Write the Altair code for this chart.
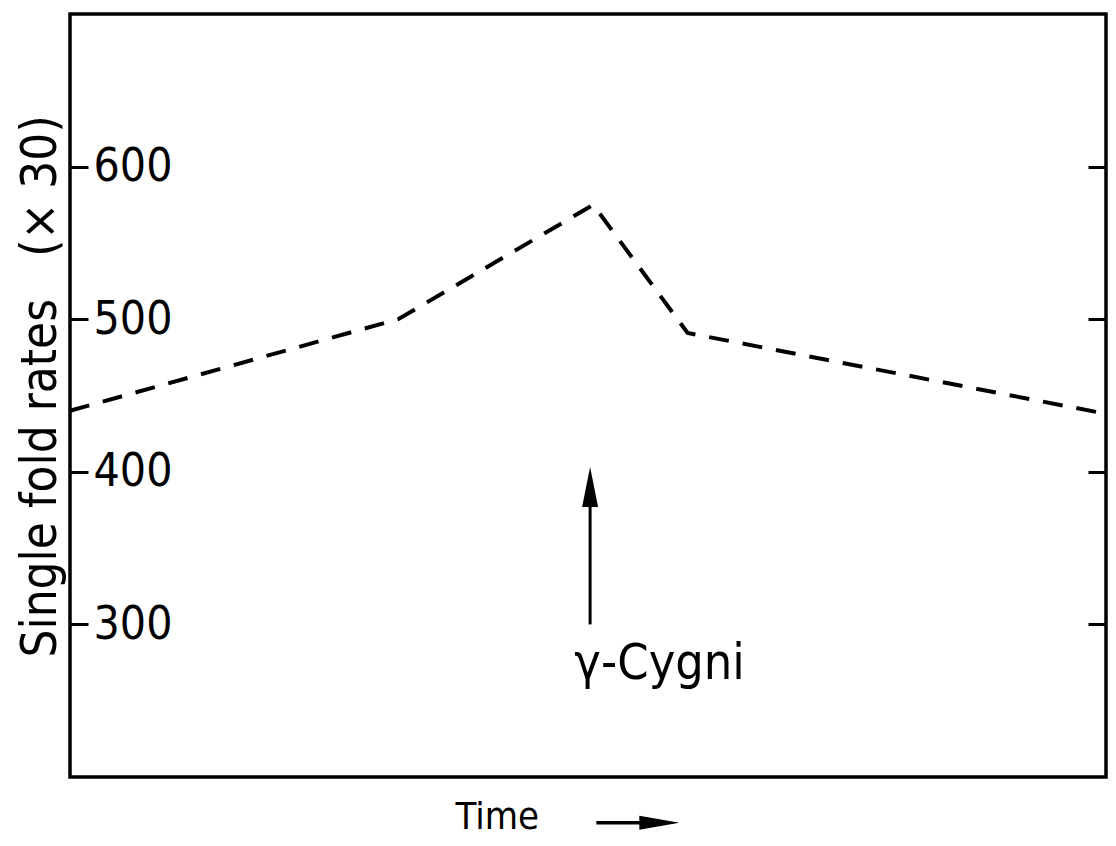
import altair as alt
import pandas as pd

# dashed rate curve (time in arbitrary units)
time = [0, 31.3, 49.9, 58.9, 98.8]
rate = [440, 500, 575, 491, 438]
y_ticks = [300, 400, 500, 600]

# gamma-Cygni marker arrow
event_time = [49.6]
event_base = [300]
event_tip = [385]
event_head = [390]
event_label = ["γ-Cygni"]
label_time = [48.1]
label_rate = [264]

# "Time ->" arrow below the axis
tarrow_start = [50.2]
tarrow_end = [55.5]
tarrow_head = [56.2]
tarrow_level = [170]

W = 1036
H = 763
FONT = "DejaVu Sans Condensed"

df_line = pd.DataFrame({"time": time, "rate": rate})
df_event = pd.DataFrame({"t": event_time, "base": event_base, "tip": event_tip,
                         "head": event_head})
df_label = pd.DataFrame({"t": label_time, "r": label_rate, "txt": event_label})
df_tarrow = pd.DataFrame({"s": tarrow_start, "e": tarrow_end, "h": tarrow_head,
                          "lvl": tarrow_level})

xs = alt.Scale(domain=[0, 98.8], nice=False, zero=False)
ys = alt.Scale(domain=[200, 700], nice=False, zero=False)

line = alt.Chart(df_line).mark_line(
    color="black", strokeWidth=4, strokeDash=[20, 14]
).encode(
    x=alt.X("time:Q", scale=xs, axis=alt.Axis(
        title="Time", domain=False, ticks=False, labels=False, grid=False,
        titleX=385, titleY=51, titleAlign="left", titleBaseline="alphabetic",
        titleFont=FONT, titleFontSize=38, titleFontWeight="normal",
        titleColor="black")),
    y=alt.Y("rate:Q", scale=ys, axis=alt.Axis(
        orient="right", offset=-W, values=y_ticks, tickSize=18, tickWidth=3,
        tickColor="black", domain=False, grid=False, labelPadding=5,
        labelFont=FONT, labelFontSize=46, labelColor="black",
        labelAlign="left", labelBaseline="middle",
        title="Single fold rates\u00a0\u00a0\u00a0(×\u00a030)", titleAngle=270,
        titleX=-15, titleY=372, titleAlign="center",
        titleBaseline="alphabetic", titleFont=FONT, titleFontSize=49,
        titleFontWeight="normal", titleColor="black")),
)

shaft = alt.Chart(df_event).mark_rule(color="black", strokeWidth=3).encode(
    x=alt.X("t:Q", scale=xs, axis=None),
    y=alt.Y("base:Q", scale=ys, axis=alt.Axis(
        orient="left", offset=-W, values=y_ticks, labels=False, tickSize=18,
        tickWidth=3, tickColor="black", domain=False, grid=False, title=None)),
    y2="tip:Q",
)

head = alt.Chart(df_event).mark_point(
    shape="M0,-1L0.4,1L-0.4,1Z", size=1600, filled=True, color="black",
    opacity=1, strokeWidth=0
).encode(
    x=alt.X("t:Q", scale=xs, axis=None),
    y=alt.Y("head:Q", scale=ys, axis=None),
)

label = alt.Chart(df_label).mark_text(
    font=FONT, fontSize=50, color="black", align="left", baseline="alphabetic"
).encode(
    x=alt.X("t:Q", scale=xs, axis=None),
    y=alt.Y("r:Q", scale=ys, axis=None),
    text="txt:N",
)

tshaft = alt.Chart(df_tarrow).mark_rule(color="black", strokeWidth=3.5).encode(
    x=alt.X("s:Q", scale=xs, axis=None),
    x2="e:Q",
    y=alt.Y("lvl:Q", scale=ys, axis=None),
)

thead = alt.Chart(df_tarrow).mark_point(
    shape="M1,0L-1,0.35L-1,-0.35Z", size=1600, filled=True, color="black",
    opacity=1, strokeWidth=0
).encode(
    x=alt.X("h:Q", scale=xs, axis=None),
    y=alt.Y("lvl:Q", scale=ys, axis=None),
)

chart = alt.layer(line, shaft, head, label, tshaft, thead).resolve_axis(
    x="independent", y="independent"
).properties(
    width=W, height=H,
    padding={"left": 62, "top": 6, "right": 2, "bottom": 60},
    autosize=alt.AutoSizeParams(type="none"),
    background="white",
).configure_view(stroke="black", strokeWidth=3.5)

chart.save("out.html", embed_options={"renderer": "svg", "actions": False})
